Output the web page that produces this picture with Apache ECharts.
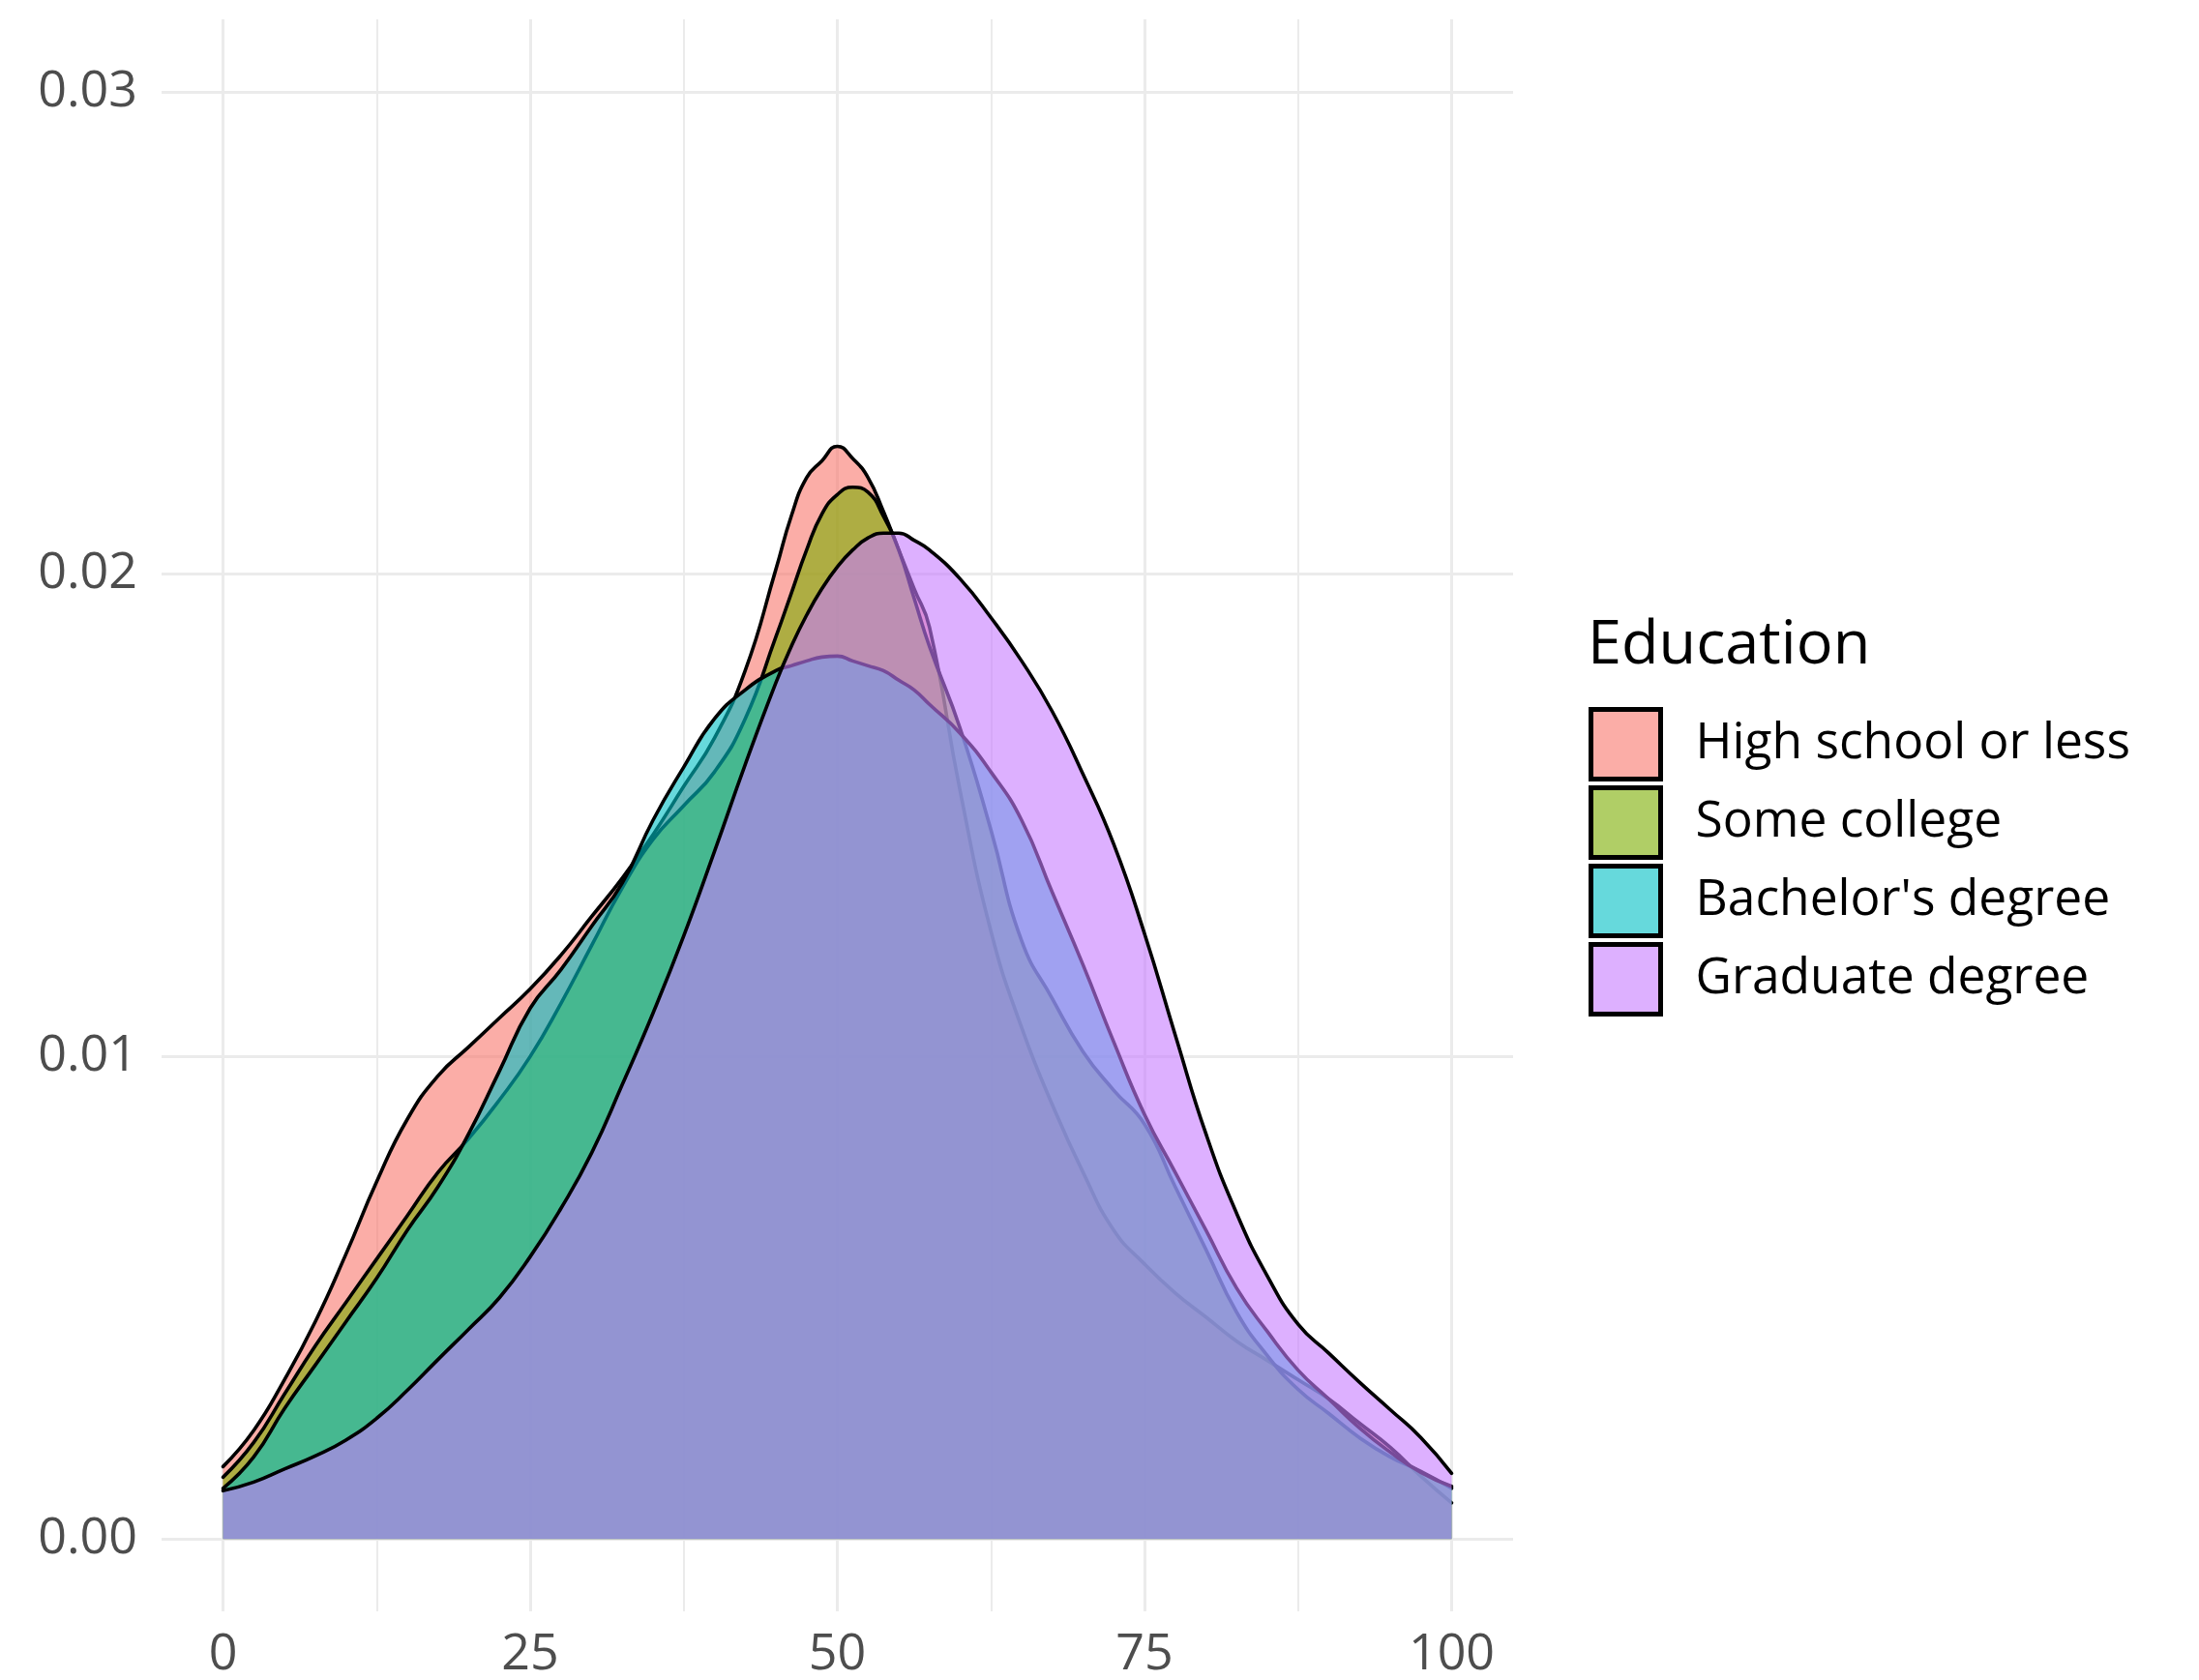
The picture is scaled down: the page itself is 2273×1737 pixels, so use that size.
<!DOCTYPE html>
<html>
<head>
<meta charset="utf-8">
<script src="https://cdn.jsdelivr.net/npm/echarts@6/dist/echarts.min.js"></script>
<style>html,body{margin:0;padding:0;background:#fff;}#c{width:2273px;height:1737px;}</style>
</head>
<body>
<div id="c"></div>
<script>
// Density estimate grid (x values) and series values
const xs = [0,2.5,5,7.5,10,12.5,15,17.5,20,22.5,25,27.5,30,32.5,35,37.5,40,42.5,45,46.25,47.5,48.75,50,51.25,52.5,53.75,55,56.25,57.5,60,62.5,65,67.5,70,72.5,75,77.5,80,82.5,85,87.5,90,92.5,95,97.5,100];
const highSchool = [0.00150,0.00225,0.0033,0.0045,0.0059,0.0074,0.0087,0.0096,0.0102,0.0108,0.0114,0.0121,0.0129,0.0137,0.0146,0.0156,0.0166,0.0180,0.0201,0.0212,0.0220,0.02235,0.02265,0.0224,0.0220,0.0213,0.0205,0.0197,0.0189,0.0155,0.0126,0.0106,0.0090,0.0076,0.0064,0.0057,0.0051,0.0046,0.0041,0.0037,0.0033,0.0029,0.0024,0.0019,0.0013,0.00075];
const someCollege = [0.00128,0.0020,0.0030,0.0040,0.0049,0.0058,0.0067,0.0076,0.0083,0.0091,0.0100,0.0111,0.0123,0.0135,0.0145,0.0152,0.0159,0.0170,0.0187,0.0196,0.0205,0.02125,0.02165,0.0218,0.0217,0.0212,0.0205,0.0195,0.0185,0.0168,0.0147,0.0124,0.0112,0.0101,0.0093,0.0086,0.0073,0.0060,0.0047,0.0038,0.0031,0.0026,0.0021,0.0017,0.0014,0.00105];
const bachelors = [0.00105,0.0017,0.0027,0.0036,0.0045,0.0054,0.0064,0.0073,0.0084,0.0097,0.0110,0.0118,0.0127,0.0136,0.0149,0.0160,0.0170,0.0176,0.0180,0.0181,0.0182,0.01828,0.0183,0.0182,0.0181,0.0180,0.0178,0.0176,0.0173,0.0167,0.0159,0.0149,0.0134,0.0119,0.0103,0.0088,0.0076,0.0064,0.0052,0.0043,0.0035,0.0029,0.0023,0.0018,0.00138,0.00109];
const graduate = [0.00100,0.00118,0.00145,0.00172,0.00205,0.00250,0.00308,0.00372,0.00435,0.00500,0.00585,0.00685,0.00800,0.00942,0.01090,0.01250,0.01425,0.01605,0.01775,0.01850,0.01915,0.01970,0.02015,0.02050,0.02075,0.02085,0.02085,0.02070,0.02050,0.01990,0.01910,0.01820,0.01715,0.01585,0.01440,0.01255,0.01045,0.00840,0.00675,0.00545,0.00445,0.00385,0.00325,0.00268,0.00210,0.00136];

const seriesNames = ['High school or less','Some college',"Bachelor's degree",'Graduate degree'];
const seriesValues = [highSchool, someCollege, bachelors, graduate];
const fillColors = ['#F8766D','#7CAE00','#00BFC4','#C77CFF'];
const keyColors = ['#FBADA7','#B0CE66','#66D9DC','#DDB0FF'];

const xTicks = [0,25,50,75,100];
const xMinor = [12.5,37.5,62.5,87.5];
const yTicks = [0,0.01,0.02,0.03];
const yMinor = [0.005,0.015,0.025];
const legendTitle = 'Education';

const FONT = "'Open Sans', 'DejaVu Sans', sans-serif";
const GRID = '#EBEBEB';

const gridLines = []
  .concat(xTicks.map(v => ({xAxis: v, lineStyle: {width: 3}})))
  .concat(xMinor.map(v => ({xAxis: v, lineStyle: {width: 2}})))
  .concat(yTicks.map(v => ({yAxis: v, lineStyle: {width: 3}})))
  .concat(yMinor.map(v => ({yAxis: v, lineStyle: {width: 2}})));

const series = [{
  type: 'line', name: '__grid', data: [[0, 0]], z: 1, showSymbol: false,
  lineStyle: {width: 0, opacity: 0}, silent: true,
  markLine: {
    z: 1, zlevel: 0,
    silent: true, symbol: ['none','none'], label: {show: false},
    lineStyle: {type: 'solid', color: GRID}, emphasis: {disabled: true},
    data: gridLines, animation: false
  }
}];
seriesValues.forEach((vals, i) => {
  series.push({
    type: 'line', name: seriesNames[i], z: 3 + i,
    data: xs.map((x, k) => [x, vals[k]]),
    smooth: 0.5, showSymbol: false, symbol: 'none',
    itemStyle: {color: fillColors[i]},
    lineStyle: {color: '#000', width: 3.6, join: 'round', cap: 'round'},
    areaStyle: {color: fillColors[i], opacity: 0.6, origin: 0},
    emphasis: {disabled: true}
  });
});

const chart = echarts.init(document.getElementById('c'), null, {renderer: 'canvas'});
chart.setOption({
  animation: false,
  backgroundColor: '#fff',
  title: {
    text: legendTitle, left: 1641, top: 637, padding: 0,
    textStyle: {fontFamily: FONT, fontSize: 63, fontWeight: 'normal', color: '#000', lineHeight: 63}
  },
  legend: {
    orient: 'vertical', left: 1642, top: 731, padding: 0,
    itemWidth: 72, itemHeight: 72, itemGap: 4, icon: 'rect',
    selectedMode: false,
    textStyle: {fontFamily: FONT, fontSize: 51.5, color: '#000', padding: [0,0,0,31], lineHeight: 52},
    data: seriesNames.map((n, i) => ({name: n, icon: 'rect', itemStyle: {color: keyColors[i], borderColor: '#000', borderWidth: 5, opacity: 1}}))
  },
  grid: {left: 167, right: 709, top: 20, bottom: 70, containLabel: false},
  xAxis: {
    type: 'value', min: -5, max: 105,
    axisLine: {show: false}, axisTick: {show: false, customValues: xTicks}, splitLine: {show: false},
    axisLabel: {customValues: xTicks, margin: 19, fontFamily: FONT, fontSize: 52, color: '#4D4D4D', lineHeight: 52}
  },
  yAxis: {
    type: 'value', min: -0.0015, max: 0.0315,
    axisLine: {show: false}, axisTick: {show: false, customValues: yTicks}, splitLine: {show: false},
    axisLabel: {customValues: yTicks, margin: 25, fontFamily: FONT, fontSize: 52, color: '#4D4D4D',
      formatter: v => Number(v).toFixed(2)}
  },
  series: series
});
</script>
</body>
</html>
